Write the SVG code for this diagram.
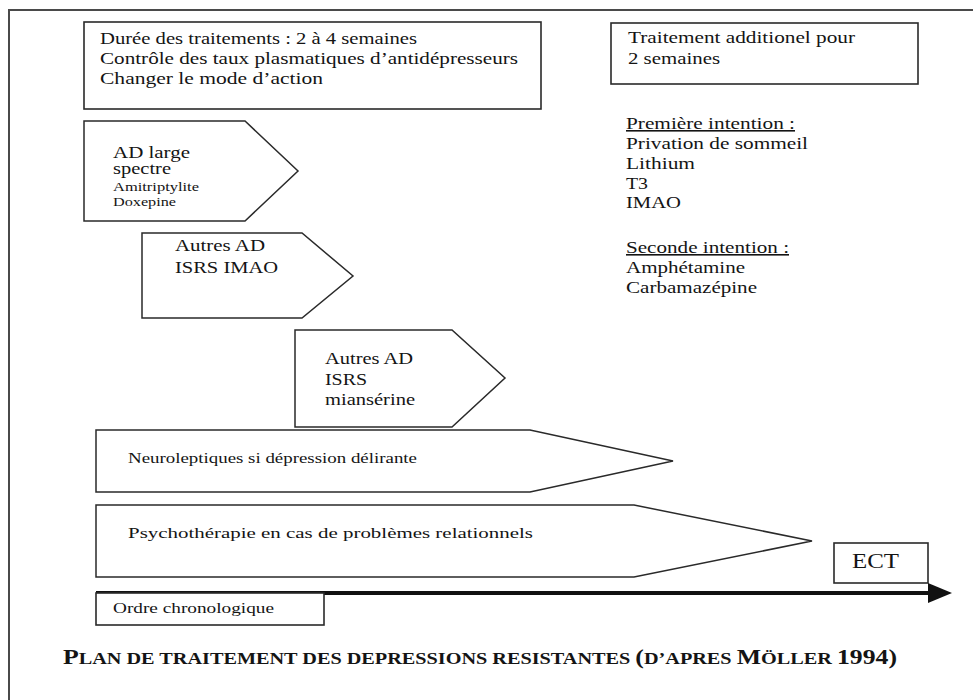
<svg xmlns="http://www.w3.org/2000/svg" width="973" height="700" viewBox="0 0 973 700">
  <style>
    .t { font-family: "Liberation Serif", "Times New Roman", serif; fill: #141414; }
    .m { font-size: 16px; }
    .s { font-size: 13px; }
    .box { fill: #ffffff; stroke: #2a2a2a; stroke-width: 1.6; }
    .shape { fill: #ffffff; stroke: #2a2a2a; stroke-width: 1.5; stroke-linejoin: miter; }
    .frame { fill: none; stroke: #4a4a4a; stroke-width: 2; }
  </style>
  <defs>
    <marker id="head" viewBox="0 0 10 10" refX="0" refY="5" markerWidth="6" markerHeight="4.5" markerUnits="strokeWidth" orient="auto">
      <path d="M0,0 L10,5 L0,10 Z" fill="#111111"/>
    </marker>
  </defs>
  <rect width="973" height="700" fill="#ffffff"/>

  <g id="frame">
    <path class="frame" d="M9,700 L9,10 L973,10"/>
  </g>

  <g id="box-duree">
    <rect class="box" x="84" y="22" width="457" height="87"/>
    <text class="t m" x="100" y="44" textLength="317" lengthAdjust="spacingAndGlyphs">Durée des traitements : 2 à 4 semaines</text>
    <text class="t m" x="100" y="64" textLength="418" lengthAdjust="spacingAndGlyphs">Contrôle des taux plasmatiques d’antidépresseurs</text>
    <text class="t m" x="100" y="84" textLength="223" lengthAdjust="spacingAndGlyphs">Changer le mode d’action</text>
  </g>

  <g id="box-additionel">
    <rect class="box" x="611" y="23" width="307" height="61"/>
    <text class="t m" x="628" y="43" textLength="227" lengthAdjust="spacingAndGlyphs">Traitement additionel pour</text>
    <text class="t m" x="628" y="64" textLength="92" lengthAdjust="spacingAndGlyphs">2 semaines</text>
  </g>

  <g id="intentions">
    <text class="t m" x="626" y="129" textLength="169" lengthAdjust="spacingAndGlyphs" text-decoration="underline">Première intention :</text>
    <text class="t m" x="626" y="149" textLength="182" lengthAdjust="spacingAndGlyphs">Privation de sommeil</text>
    <text class="t m" x="626" y="169" textLength="69" lengthAdjust="spacingAndGlyphs">Lithium</text>
    <text class="t m" x="626" y="189" textLength="22" lengthAdjust="spacingAndGlyphs">T3</text>
    <text class="t m" x="626" y="208" textLength="55" lengthAdjust="spacingAndGlyphs">IMAO</text>
    <text class="t m" x="626" y="253" textLength="163" lengthAdjust="spacingAndGlyphs" text-decoration="underline">Seconde intention :</text>
    <text class="t m" x="626" y="273" textLength="119" lengthAdjust="spacingAndGlyphs">Amphétamine</text>
    <text class="t m" x="626" y="293" textLength="131" lengthAdjust="spacingAndGlyphs">Carbamazépine</text>
  </g>

  <g id="ad-large-spectre">
    <polygon class="shape" points="84,121 245,121 298,171 245,221 84,221"/>
    <text class="t m" x="113" y="158" textLength="77" lengthAdjust="spacingAndGlyphs">AD large</text>
    <text class="t m" x="113" y="174" textLength="58" lengthAdjust="spacingAndGlyphs">spectre</text>
    <text class="t s" x="113" y="191" textLength="86" lengthAdjust="spacingAndGlyphs">Amitriptylite</text>
    <text class="t s" x="113" y="206" textLength="63" lengthAdjust="spacingAndGlyphs">Doxepine</text>
  </g>

  <g id="autres-ad-1">
    <polygon class="shape" points="142,233 302,233 353,276 302,318 142,318"/>
    <text class="t m" x="175" y="251" textLength="90" lengthAdjust="spacingAndGlyphs">Autres AD</text>
    <text class="t m" x="175" y="273" textLength="103" lengthAdjust="spacingAndGlyphs">ISRS IMAO</text>
  </g>

  <g id="autres-ad-2">
    <polygon class="shape" points="295,330 452,330 505,378 452,427 295,427"/>
    <text class="t m" x="325" y="364" textLength="88" lengthAdjust="spacingAndGlyphs">Autres AD</text>
    <text class="t m" x="325" y="385" textLength="42" lengthAdjust="spacingAndGlyphs">ISRS</text>
    <text class="t m" x="325" y="405" textLength="90" lengthAdjust="spacingAndGlyphs">miansérine</text>
  </g>

  <g id="neuroleptiques">
    <polygon class="shape" points="96,430 530,430 673,461 530,492 96,492"/>
    <text class="t" font-size="15" x="128" y="463" textLength="289" lengthAdjust="spacingAndGlyphs">Neuroleptiques si dépression délirante</text>
  </g>

  <g id="psychotherapie">
    <polygon class="shape" points="96,505 634,505 812,541 634,577 96,577"/>
    <text class="t" font-size="15" x="128" y="538" textLength="405" lengthAdjust="spacingAndGlyphs">Psychothérapie en cas de problèmes relationnels</text>
  </g>

  <g id="ect">
    <rect class="box" x="834" y="543" width="94" height="40"/>
    <text class="t" font-size="20" x="852" y="568" textLength="47" lengthAdjust="spacingAndGlyphs">ECT</text>
  </g>

  <g id="connectors">
    <line x1="96" y1="593" x2="930" y2="593" stroke="#111111" stroke-width="4"/>
    <polygon points="928,583 952,593 928,603" fill="#111111"/>
  </g>

  <g id="ordre-chronologique">
    <rect class="box" x="96" y="593" width="228" height="32"/>
    <text class="t" font-size="14" x="113" y="613" textLength="161" lengthAdjust="spacingAndGlyphs">Ordre chronologique</text>
  </g>

  <g id="caption">
    <text class="t" font-weight="bold" x="63" y="664" textLength="834" lengthAdjust="spacingAndGlyphs"><tspan font-size="21">P</tspan><tspan font-size="16.5">LAN DE TRAITEMENT DES DEPRESSIONS RESISTANTES </tspan><tspan font-size="21">(</tspan><tspan font-size="16.5">D’APRES </tspan><tspan font-size="21">M</tspan><tspan font-size="16.5">ÖLLER </tspan><tspan font-size="21">1994)</tspan></text>
  </g>
</svg>
